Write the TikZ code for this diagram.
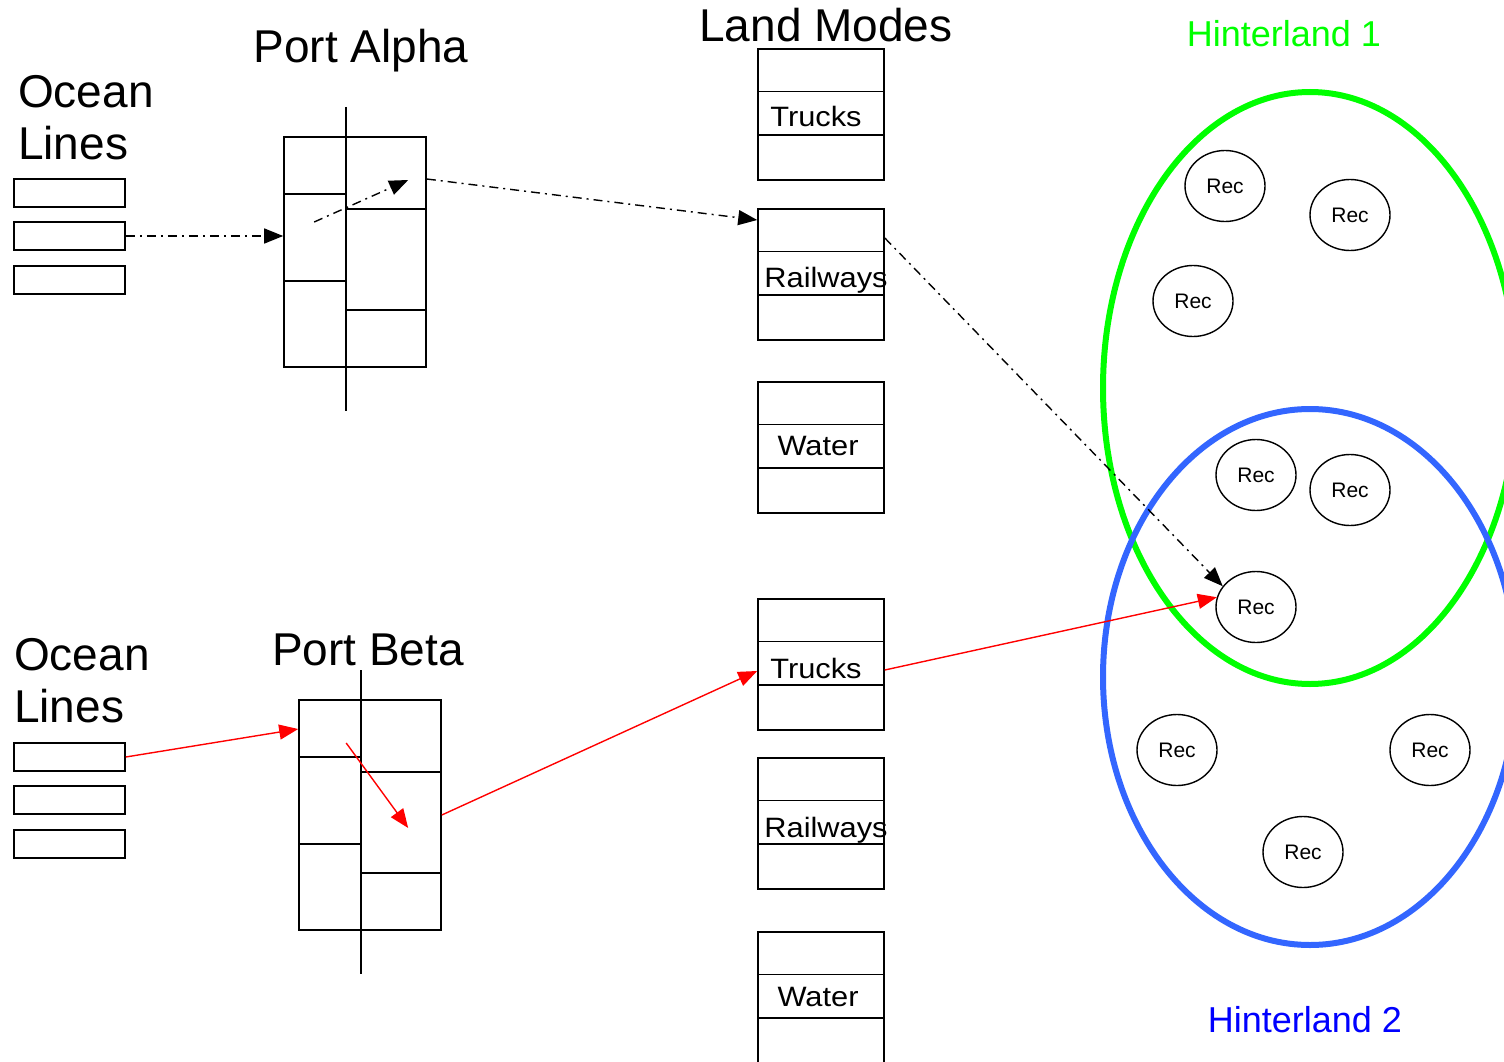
\documentclass[tikz,border=0pt]{standalone}
\usepackage{fontspec}
\setmainfont{Liberation Sans}
\newfontfamily\modefont[FakeStretch=1.1]{Liberation Sans}
\usetikzlibrary{arrows.meta,calc,shapes.geometric}
\definecolor{hgreen}{RGB}{0,255,0}
\definecolor{hblue}{RGB}{51,102,255}

\begin{document}
\begin{tikzpicture}[x=1pt,y=-1pt,
    box/.style={draw,line width=1.6pt,inner sep=0pt},
    linebox/.style={box,minimum width=111pt,minimum height=28pt},
    portbox/.style={box,minimum width=142pt,minimum height=230pt},
    modebox/.style={box,minimum width=126pt,minimum height=131pt},
    rec/.style={ellipse,draw,line width=1.4pt,minimum width=80pt,minimum height=71pt,inner sep=0pt,font=\fontsize{21}{21}\selectfont},
    title/.style={font=\fontsize{46}{52}\selectfont,inner sep=0pt},
    hlabel/.style={font=\fontsize{36}{36}\selectfont,inner sep=0pt,anchor=base},
    modelabel/.style={font=\modefont\fontsize{28}{28}\selectfont,inner sep=0pt,anchor=base},
    hinter/.style={ellipse,line width=6pt,inner sep=0pt,minimum width=414pt},
    flow/.style={-{Triangle[length=19pt,width=15pt]},line width=1.4pt},
    dashdot/.style={flow,dash pattern=on 9pt off 5pt on 2pt off 5pt},
    redflow/.style={flow,red}]
    \useasboundingbox (0,0) rectangle (1504,1062);

    % hinterlands
    \node[hinter,draw=hgreen,minimum height=592pt] (hinter1) at (1310,388) {};
    \node[hinter,draw=hblue,minimum height=536pt] (hinter2) at (1310,677) {};
    \node[hlabel,text=hgreen] at (1284,47) {Hinterland 1};
    \node[hlabel,text=blue] at (1305,1032) {Hinterland 2};
    \foreach \n/\x/\y in {rec1/1225/186, rec2/1350/215, rec3/1193/301, rec4/1256/475, rec5/1350/490,
        rec6/1256/607, rec7/1177/750, rec8/1430/750, rec9/1303/852}
        \node[rec] (\n) at (\x,\y) {Rec};

    % ocean lines
    \node[title,anchor=base west,align=left] (oceanA) at (18,160) {Ocean\\Lines};
    \node[title,anchor=base west,align=left] (oceanB) at (14,722) {Ocean\\Lines};
    \foreach \n/\y in {oceanA1/193, oceanA2/236, oceanA3/280, oceanB1/757, oceanB2/800, oceanB3/844}
        \node[linebox] (\n) at (69.5,\y) {};

    % ports
    \node[title,anchor=base] at (361,63) {Port Alpha};
    \node[title,anchor=base] at (368,665) {Port Beta};
    \foreach \p/\cx/\top in {portA/355/136, portB/370/699} {
        \node[portbox,anchor=north] (\p) at (\cx,\top) {};
        \draw[line width=1.6pt] ($(\p.north west)+(63,-29)$) -- ($(\p.south west)+(63,43)$);
        \draw[line width=1.6pt] ($(\p.north west)+(0,58)$) -- +(63,0)
            ($(\p.north west)+(0,145)$) -- +(63,0);
        \draw[line width=1.6pt] ($(\p.north west)+(63,73)$) -- ($(\p.north east)+(0,73)$)
            ($(\p.north west)+(63,174)$) -- ($(\p.north east)+(0,174)$);
    }

    % land modes
    \node[title,anchor=base] at (826,42) {Land Modes};
    \foreach \top/\n/\lab/\dx/\dy in {48/truckA/Trucks/-5/79, 208/railA/Railways/5/79, 381/waterA/Water/-3/74,
        598/truckB/Trucks/-5/80, 757/railB/Railways/5/80, 931/waterB/Water/-3/75} {
        \node[modebox,anchor=north] (\n) at (821,\top) {};
        \draw[line width=1.6pt] ($(\n.north west)+(0,43.5)$) -- ($(\n.north east)+(0,43.5)$)
            ($(\n.north west)+(0,87)$) -- ($(\n.north east)+(0,87)$);
        \node[modelabel] at ($(\n.north)+(\dx,\dy)$) {\lab};
    }

    % flows
    \draw[dashdot] (oceanA2.east) -- (oceanA2.east -| portA.west);
    \draw[dashdot] ($(portA.north west)+(31,86)$) -- ($(portA.north west)+(125,44)$);
    \draw[dashdot] ($(portA.north east)+(0,43)$) -- ($(railA.north west)+(0,12)$);
    \draw[dashdot] ($(railA.north east)+(0,30)$) -- (rec6.148);
    \draw[redflow] (oceanB1.east) -- ($(portB.north west)+(0,30)$);
    \draw[redflow] ($(portB.north west)+(48,44)$) -- ($(portB.north west)+(110,129)$);
    \draw[redflow] ($(portB.north east)+(0,116)$) -- ($(truckB.north west)+(0,73)$);
    \draw[redflow] ($(truckB.north east)+(0,72)$) -- (rec6.166);
\end{tikzpicture}
\end{document}
